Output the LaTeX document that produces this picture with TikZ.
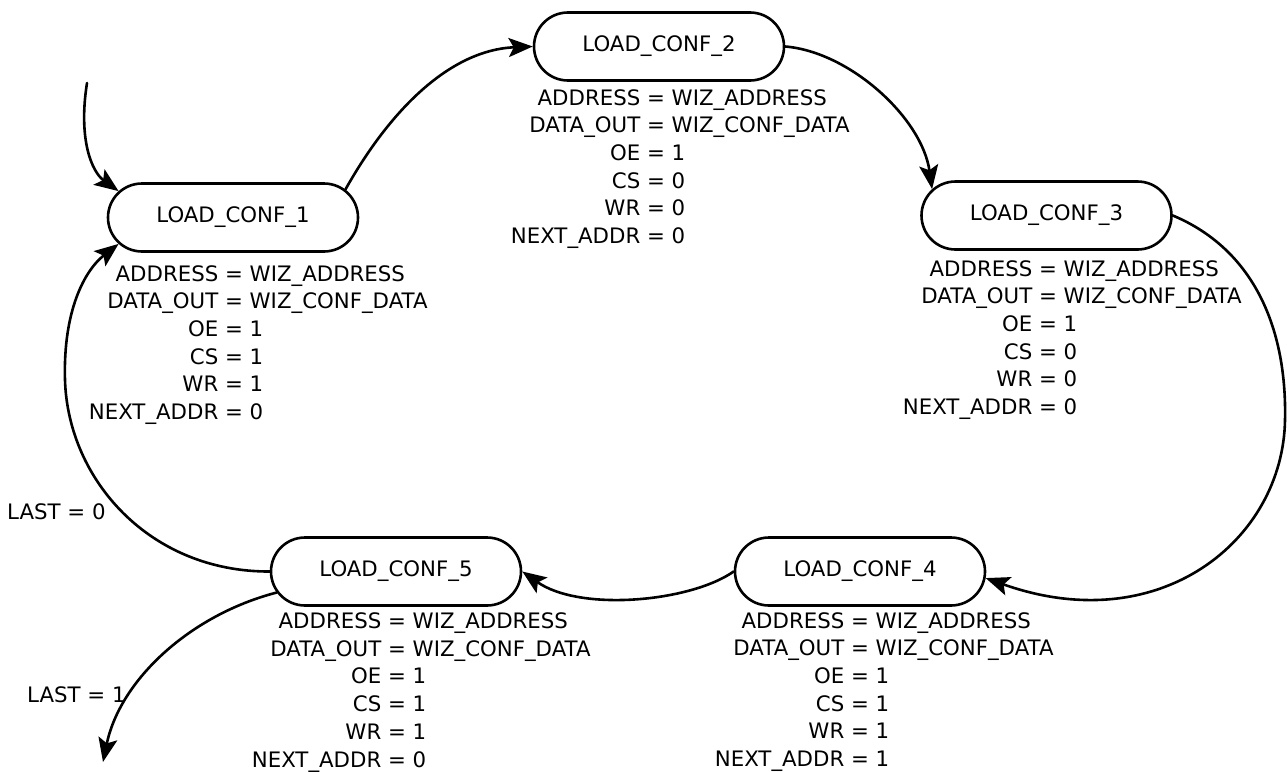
\documentclass[tikz,border=0pt]{standalone}
\usepackage{fontspec}
\setmainfont{DejaVu Sans}
\usetikzlibrary{shapes.misc,arrows.meta}

\tikzset{
  state/.style={rounded rectangle, draw, line width=2.6pt,
    minimum width=250pt, minimum height=68pt, inner sep=0pt,
    font=\fontsize{21.3}{25}\selectfont},
  outtext/.style={anchor=base, inner sep=0pt, font=\fontsize{21.3}{25}\selectfont},
  cond/.style={anchor=base west, inner sep=0pt, font=\fontsize{21.3}{25}\selectfont},
  edge/.style={line width=2.6pt, line cap=round,
    -{Stealth[length=24pt,width=19pt,inset=5pt]}},
}

% output assignments of one state, aligned on the "=" sign
\newcommand\outblock[4]{%
  \foreach \lhs/\rhs [count=\i] in {#4} {
    \node[outtext] (#1-\i) at (#2, {#3 + (\i-1)*27.7}) {\llap{\lhs\ }=\rlap{\ \rhs}};
  }%
}

\begin{document}
\begin{tikzpicture}[x=1pt,y=-1pt]
\useasboundingbox (0,0) rectangle (1287,771);

% states
\node[state] (n1) at (233,217.5) {LOAD\_CONF\_1};
\node[state] (n2) at (659,46.5)  {LOAD\_CONF\_2};
\node[state] (n3) at (1046.5,215.5) {LOAD\_CONF\_3};
\node[state] (n4) at (860,571.5) {LOAD\_CONF\_4};
\node[state] (n5) at (396,571.5) {LOAD\_CONF\_5};

% outputs
\outblock{o1}{234}{281}{ADDRESS/WIZ\_ADDRESS, DATA\_OUT/WIZ\_CONF\_DATA, OE/1, CS/1, WR/1, NEXT\_ADDR/0}
\outblock{o2}{656}{105}{ADDRESS/WIZ\_ADDRESS, DATA\_OUT/WIZ\_CONF\_DATA, OE/1, CS/0, WR/0, NEXT\_ADDR/0}
\outblock{o3}{1048}{276}{ADDRESS/WIZ\_ADDRESS, DATA\_OUT/WIZ\_CONF\_DATA, OE/1, CS/0, WR/0, NEXT\_ADDR/0}
\outblock{o4}{860}{628}{ADDRESS/WIZ\_ADDRESS, DATA\_OUT/WIZ\_CONF\_DATA, OE/1, CS/1, WR/1, NEXT\_ADDR/1}
\outblock{o5}{397}{628.5}{ADDRESS/WIZ\_ADDRESS, DATA\_OUT/WIZ\_CONF\_DATA, OE/1, CS/1, WR/1, NEXT\_ADDR/0}

% free ends
\coordinate (init) at (87,83);
\coordinate (exit) at (103,762);

% transitions
\draw[edge] (init) .. controls (78,140) and (92,172) .. (n1.167);
\draw[edge] (n1.14) .. controls (390,110) and (450,50) .. (n2.west);
\draw[edge] (n2.east) .. controls (850,52) and (922,118) .. (n3.167);
\draw[edge] (n3.east) .. controls (1255,250) and (1287,330) .. (1285,420)
                      .. controls (1283,540) and (1160,640) .. (n4.-3);
\draw[edge] (n4.west) .. controls (690,602) and (580,612) .. (n5.east);
\draw[edge] (n5.west) .. controls (150,572) and (68,480) .. (65,380)
                      .. controls (63,310) and (85,270) .. (n1.193);
\draw[edge] (n5.190) .. controls (190,615) and (120,680) .. (exit);

% transition conditions
\node[cond] (c0) at (7,519.5) {LAST = 0};
\node[cond] (c1) at (27,702.5) {LAST = 1};
\end{tikzpicture}
\end{document}
